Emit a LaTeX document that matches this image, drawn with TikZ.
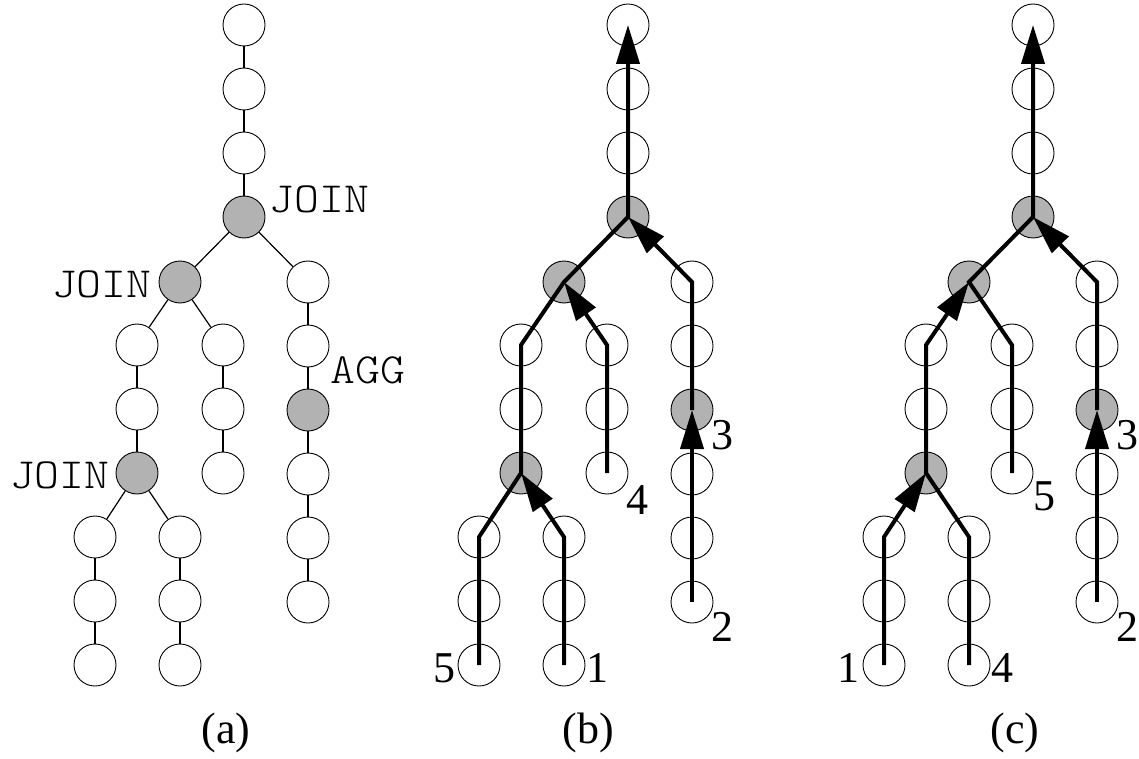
\documentclass[tikz,border=0pt]{standalone}
\usepackage{fontspec}
\setmainfont{Liberation Serif}
\newfontfamily\tagfont[FakeStretch=1.1]{lmmonolt10-regular.otf}
\usetikzlibrary{arrows.meta,positioning}

\begin{document}
\begin{tikzpicture}
  [x=1pt,y=-1pt,
   op/.style={circle,draw,line width=0.9pt,fill=white,
              inner sep=0pt,minimum size=42pt},
   opj/.style={op,fill=black!30},
   edge/.style={line width=1.2pt},
   flow/.style={line width=4pt,-{Triangle[length=39pt,width=23pt]}},
   tag/.style={font=\tagfont\fontsize{43}{43}\selectfont,inner sep=0pt},
   num/.style={font=\fontsize{44}{44}\selectfont,inner sep=0pt}]
  \useasboundingbox (0,0) rectangle (1139,759);

  % the same plan three times
  \foreach \p/\dx/\cx in {a/0/226,b/384/588,c/789/1015} {
    \begin{scope}[on grid,node distance=64pt]
      \node[op]  (\p-t1)  at (244+\dx,25)                  {};
      \node[op]  (\p-t2)  [below=of \p-t1]                 {};
      \node[op]  (\p-t3)  [below=of \p-t2]                 {};
      \node[opj] (\p-j1)  [below=of \p-t3]                 {};
      \node[opj] (\p-j2)  [below left=65pt and 64pt of \p-j1]  {};
      \node[op]  (\p-m1)  [below right=65pt and 64pt of \p-j1] {};
      \node[op]  (\p-l1)  [below left=63pt and 43pt of \p-j2]  {};
      \node[op]  (\p-l2)  [below=of \p-l1]                 {};
      \node[opj] (\p-j3)  [below=of \p-l2]                 {};
      \node[op]  (\p-r1)  [below right=63pt and 43pt of \p-j2] {};
      \node[op]  (\p-r2)  [below=of \p-r1]                 {};
      \node[op]  (\p-r3)  [below=of \p-r2]                 {};
      \node[op]  (\p-m2)  [below=of \p-m1]                 {};
      \node[opj] (\p-agg) [below=of \p-m2]                 {};
      \node[op]  (\p-m3)  [below=of \p-agg]                {};
      \node[op]  (\p-m4)  [below=of \p-m3]                 {};
      \node[op]  (\p-m5)  [below=of \p-m4]                 {};
      \node[op]  (\p-x1)  [below left=64pt and 42pt of \p-j3]  {};
      \node[op]  (\p-x2)  [below=of \p-x1]                 {};
      \node[op]  (\p-x3)  [below=of \p-x2]                 {};
      \node[op]  (\p-y1)  [below right=64pt and 43pt of \p-j3] {};
      \node[op]  (\p-y2)  [below=of \p-y1]                 {};
      \node[op]  (\p-y3)  [below=of \p-y2]                 {};
    \end{scope}
    \node[num] (cap-\p) at (\cx,733) {(\p)};
  }

  % (a) plan edges
  \foreach \u/\v in {t1/t2,t2/t3,t3/j1,j1/j2,j1/m1,j2/l1,j2/r1,l1/l2,l2/j3,
                     r1/r2,r2/r3,m1/m2,m2/agg,agg/m3,m3/m4,m4/m5,
                     j3/x1,x1/x2,x2/x3,j3/y1,y1/y2,y2/y3}
    \draw[edge] (a-\u) -- (a-\v);
  \node[tag] (tag-j1)  [right=4pt of a-j1,yshift=17.5pt] {JOIN};
  \node[tag] (tag-j2)  [left=7pt of a-j2,yshift=-2pt]    {JOIN};
  \node[tag] (tag-j3)  [left=6pt of a-j3,yshift=-2pt]    {JOIN};
  \node[tag] (tag-agg) [right=1pt of a-agg,yshift=39.5pt] {AGG};

  % (b) pipelines
  \draw[flow] (b-y3.center) -- (b-y1.center) -- (b-j3.center);
  \draw[flow] (b-m5.center) -- (b-agg.center);
  \draw[flow] (b-agg.center) -- (b-m1.center) -- (b-j1.center);
  \draw[flow] (b-r3.center) -- (b-r1.center) -- (b-j2.center);
  \draw[flow] (b-x3.center) -- (b-x1.center) -- (b-j3.center) -- (b-l1.center)
              -- (b-j2.center) -- (b-j1.center) -- (b-t1.center);
  \node[num] (b-n1) [right=1pt of b-y3,yshift=-3pt]       {1};
  \node[num] (b-n2) [below right=-5pt and 4pt of b-m5]    {2};
  \node[num] (b-n3) [below right=-5pt and 4pt of b-agg]   {3};
  \node[num] (b-n4) [below right=-3pt and 4pt of b-r3]    {4};
  \node[num] (b-n5) [left=2pt of b-x3,yshift=-3pt]        {5};

  % (c) pipelines
  \draw[flow] (c-x3.center) -- (c-x1.center) -- (c-j3.center);
  \draw[flow] (c-m5.center) -- (c-agg.center);
  \draw[flow] (c-agg.center) -- (c-m1.center) -- (c-j1.center);
  \draw[flow] (c-y3.center) -- (c-y1.center) -- (c-j3.center) -- (c-l1.center)
              -- (c-j2.center);
  \draw[flow] (c-r3.center) -- (c-r1.center) -- (c-j2.center) -- (c-j1.center)
              -- (c-t1.center);
  \node[num] (c-n1) [left=3pt of c-x3,yshift=-3pt]        {1};
  \node[num] (c-n2) [below right=-5pt and 4pt of c-m5]    {2};
  \node[num] (c-n3) [below right=-5pt and 4pt of c-agg]   {3};
  \node[num] (c-n4) [right=1pt of c-y3,yshift=-3pt]       {4};
  \node[num] (c-n5) [below right=-7pt and 6pt of c-r3]    {5};
\end{tikzpicture}
\end{document}
